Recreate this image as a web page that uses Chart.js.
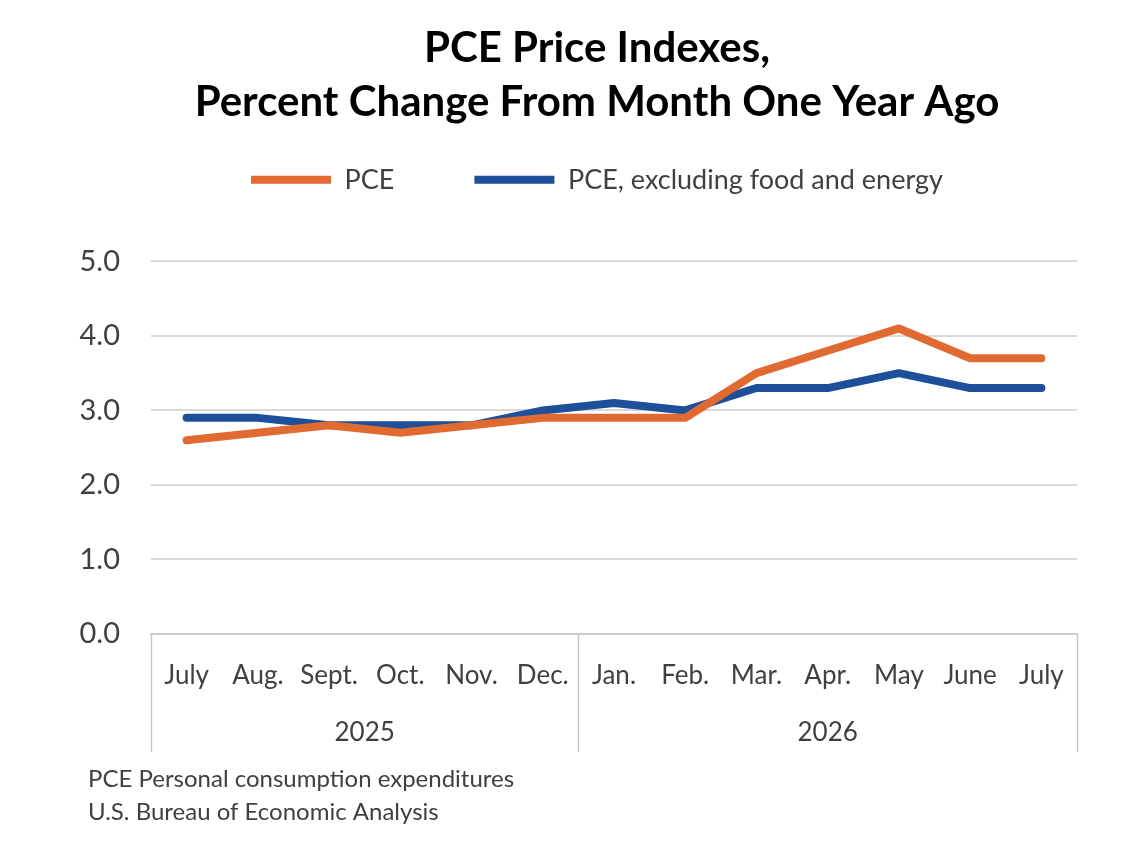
<!DOCTYPE html>
<html>
<head>
<meta charset="utf-8">
<script src="https://cdn.jsdelivr.net/npm/chart.js@4.4.1/dist/chart.umd.min.js"></script>
<style>
  html, body { margin: 0; padding: 0; background: #fff; }
  #wrap { width: 1126px; height: 852px; }
</style>
</head>
<body>
<div id="wrap"><canvas id="pceChart" width="1126" height="852"></canvas></div>
<script>
// Chart data
const months = ['July', 'Aug.', 'Sept.', 'Oct.', 'Nov.', 'Dec.', 'Jan.', 'Feb.', 'Mar.', 'Apr.', 'May', 'June', 'July'];
const years = ['2025', '2026'];
const monthsPerYear = [6, 7];
const pce = [2.6, 2.7, 2.8, 2.7, 2.8, 2.9, 2.9, 2.9, 3.5, 3.8, 4.1, 3.7, 3.7];
const pceCore = [2.9, 2.9, 2.8, 2.8, 2.8, 3.0, 3.1, 3.0, 3.3, 3.3, 3.5, 3.3, 3.3];
const notes = ['PCE Personal consumption expenditures', 'U.S. Bureau of Economic Analysis'];

const FONT = 'Lato, "Open Sans", sans-serif';
const TEXT = '#404040';
const RULE = '#c8c8c8';

// Extra space under the legend
const legendGap = {
  id: 'legendGap',
  beforeInit(chart) {
    const fit = chart.legend.fit;
    chart.legend.fit = function() {
      fit.bind(chart.legend)();
      this.height += 58;
    };
  }
};

// Year groups under the month labels, plus footnotes
const yearGroups = {
  id: 'yearGroups',
  afterDraw(chart) {
    const ctx = chart.ctx;
    const x = chart.scales.x;
    const area = chart.chartArea;
    const bottom = area.bottom + 118;

    // group boundaries
    const edges = [area.left];
    let idx = 0;
    monthsPerYear.forEach((n, i) => {
      idx += n;
      if (i < monthsPerYear.length - 1) {
        edges.push((x.getPixelForValue(idx - 1) + x.getPixelForValue(idx)) / 2);
      }
    });
    edges.push(area.right);

    ctx.save();
    ctx.strokeStyle = RULE;
    ctx.lineWidth = 1.5;
    edges.forEach(e => {
      ctx.beginPath();
      ctx.moveTo(Math.round(e) + 0.5, area.bottom);
      ctx.lineTo(Math.round(e) + 0.5, bottom);
      ctx.stroke();
    });

    ctx.fillStyle = TEXT;
    ctx.font = '26px ' + FONT;
    ctx.textAlign = 'center';
    ctx.textBaseline = 'middle';
    years.forEach((y, i) => {
      ctx.fillText(y, (edges[i] + edges[i + 1]) / 2, area.bottom + 99);
    });

    ctx.font = '24px ' + FONT;
    ctx.textAlign = 'left';
    notes.forEach((t, i) => {
      ctx.fillText(t, 88, 779 + i * 33);
    });
    ctx.restore();
  }
};

const ctx = document.getElementById('pceChart').getContext('2d');
new Chart(ctx, {
  type: 'line',
  data: {
    labels: months,
    datasets: [{
      label: 'PCE',
      data: pce,
      borderColor: '#E06A30',
      backgroundColor: '#E06A30',
      borderWidth: 8,
      pointRadius: 0,
      pointStyle: 'line',
      tension: 0,
      borderJoinStyle: 'round',
      borderCapStyle: 'round'
    }, {
      label: 'PCE, excluding food and energy',
      data: pceCore,
      borderColor: '#1D4F9B',
      backgroundColor: '#1D4F9B',
      borderWidth: 8,
      pointRadius: 0,
      pointStyle: 'line',
      tension: 0,
      borderJoinStyle: 'round',
      borderCapStyle: 'round'
    }]
  },
  options: {
    responsive: false,
    animation: false,
    devicePixelRatio: 1,
    layout: {
      padding: { left: 68, right: 0, top: 0, bottom: 0 }
    },
    plugins: {
      title: {
        display: true,
        text: ['PCE Price Indexes,', 'Percent Change From Month One Year Ago'],
        color: '#000',
        font: { family: FONT, size: 42, weight: 'bold', lineHeight: 1.29 },
        padding: { top: 21, bottom: -43 }
      },
      legend: {
        display: true,
        labels: {
          color: TEXT,
          font: { family: FONT, size: 27 },
          usePointStyle: true,
          pointStyleWidth: 80,
          padding: 80
        }
      },
      tooltip: { enabled: false }
    },
    scales: {
      x: {
        offset: true,
        grid: { display: false, drawTicks: false },
        border: { display: true, color: RULE, width: 1.5 },
        ticks: {
          color: TEXT,
          font: { family: FONT, size: 26 },
          padding: 26,
          maxRotation: 0,
          autoSkip: false
        },
        afterFit(scale) { scale.height = 218; }
      },
      y: {
        min: 0,
        max: 5,
        grid: { color: '#d9d9d9', lineWidth: 2, drawTicks: false },
        border: { display: false },
        ticks: {
          stepSize: 1,
          color: TEXT,
          font: { family: FONT, size: 29 },
          padding: 31,
          callback: v => v.toFixed(1)
        },
        afterFit(scale) { scale.width = 83; }
      },
      // empty right margin so the plot ends where the reference does
      yRight: {
        position: 'right',
        display: true,
        min: 0,
        max: 5,
        grid: { display: false, drawTicks: false },
        border: { display: false },
        ticks: { display: false },
        afterFit(scale) { scale.width = 49; }
      }
    }
  },
  plugins: [legendGap, yearGroups]
});
</script>
</body>
</html>
